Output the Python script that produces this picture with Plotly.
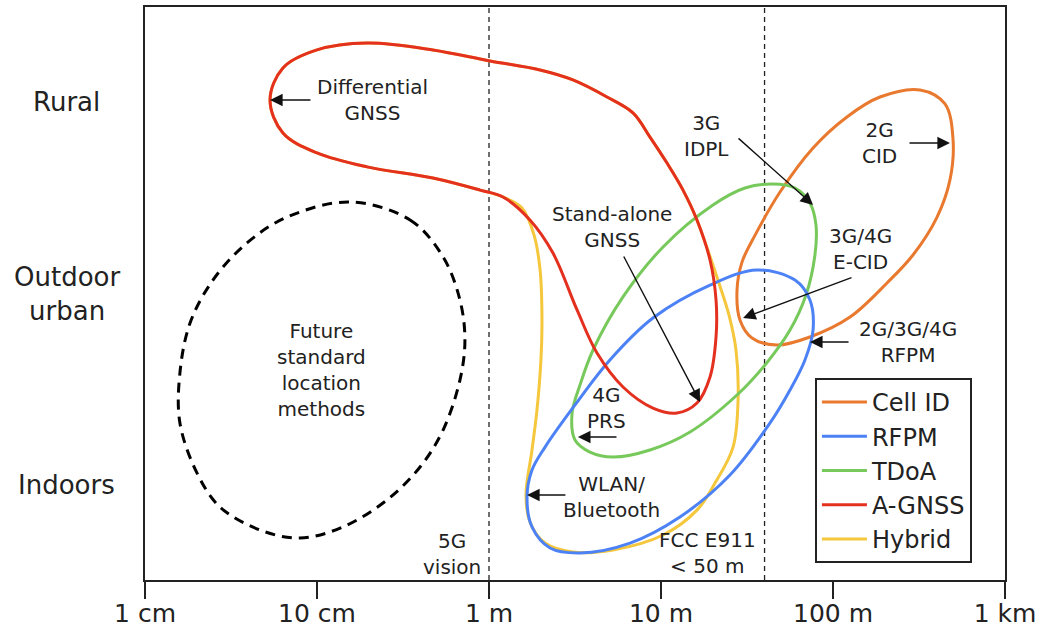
import numpy as np
import plotly.graph_objects as go

# Coordinates: x = log10(positioning accuracy in metres), y = environment level
# (1 = Indoors, 2 = Outdoor urban, 3 = Rural)
environment_labels = ["Indoors", "Outdoor<br>urban", "Rural"]
environment_levels = [1, 2, 3]

tick_metres = [0.01, 0.1, 1, 10, 100, 1000]
tick_labels = ["1 cm", "10 cm", "1 m", "10 m", "100 m", "1 km"]

threshold_metres = [1, 40]

# ---- Outlines of each method family (log10 metres, environment level) ----
cell_id_lx = [2.506, 2.651, 2.698, 2.680, 2.605, 2.465, 2.314, 2.099, 1.866, 1.674,
              1.529, 1.459, 1.442, 1.471, 1.547, 1.692, 1.884, 2.081, 2.273]
cell_id_y = [3.063, 2.990, 2.802, 2.593, 2.399, 2.201, 2.055, 1.877, 1.773, 1.731,
             1.768, 1.862, 2.018, 2.164, 2.305, 2.530, 2.760, 2.922, 3.026]

rfpm_lx = [1.558, 1.779, 1.866, 1.884, 1.837, 1.750, 1.634, 1.401, 1.110, 0.820,
           0.529, 0.355, 0.250, 0.221, 0.250, 0.326, 0.500, 0.703, 0.953, 1.285]
rfpm_y = [2.123, 2.070, 1.966, 1.809, 1.653, 1.496, 1.324, 1.052, 0.833, 0.697,
          0.645, 0.671, 0.781, 0.937, 1.078, 1.198, 1.418, 1.653, 1.872, 2.044]

tdoa_lx = [1.651, 1.779, 1.866, 1.901, 1.895, 1.843, 1.750, 1.605, 1.442, 1.169,
           0.936, 0.721, 0.587, 0.500, 0.483, 0.529, 0.605, 0.779, 1.012, 1.302, 1.488]
tdoa_y = [2.572, 2.551, 2.473, 2.358, 2.201, 1.992, 1.809, 1.627, 1.470, 1.277,
          1.183, 1.146, 1.172, 1.235, 1.376, 1.522, 1.705, 1.982, 2.243, 2.462, 2.551]

agnss_lx = [-1.273, -1.198, -1.000, -0.709, -0.326, 0.006, 0.297, 0.488, 0.686, 0.837,
            0.936, 1.035, 1.128, 1.209, 1.285, 1.320, 1.320, 1.285, 1.209, 1.093,
            0.953, 0.779, 0.628, 0.512, 0.372, 0.238, 0.081, -0.052, -0.326, -0.709,
            -1.000, -1.198]
agnss_y = [3.010, 3.178, 3.272, 3.308, 3.272, 3.214, 3.167, 3.115, 3.026, 2.943,
           2.817, 2.681, 2.540, 2.384, 2.175, 1.966, 1.773, 1.564, 1.428, 1.376,
           1.402, 1.512, 1.689, 1.914, 2.211, 2.384, 2.504, 2.540, 2.603, 2.661,
           2.734, 2.838]

hybrid_lx = [-1.273, -1.198, -1.000, -0.709, -0.326, 0.006, 0.297, 0.488, 0.686, 0.837,
             0.936, 1.035, 1.128, 1.209, 1.262, 1.331, 1.395, 1.436, 1.448, 1.419,
             1.314, 1.209, 1.012, 0.721, 0.488, 0.326, 0.238, 0.215, 0.250, 0.279,
             0.302, 0.308, 0.297, 0.262, 0.192, 0.081, -0.052, -0.326, -0.709, -1.000,
             -1.198]
hybrid_y = [3.010, 3.178, 3.272, 3.308, 3.272, 3.214, 3.167, 3.115, 3.026, 2.943,
            2.817, 2.681, 2.540, 2.384, 2.253, 2.070, 1.888, 1.705, 1.444, 1.198,
            1.010, 0.869, 0.739, 0.661, 0.650, 0.697, 0.807, 0.948, 1.183, 1.392,
            1.653, 1.862, 2.123, 2.305, 2.446, 2.504, 2.540, 2.603, 2.661, 2.734,
            2.838]

future_lx = [-0.808, -0.459, -0.267, -0.169, -0.140, -0.169, -0.267, -0.401, -0.593, -0.849,
             -1.099, -1.331, -1.564, -1.698, -1.797, -1.797, -1.738, -1.605, -1.407, -1.174]
future_y = [2.478, 2.384, 2.191, 1.966, 1.757, 1.548, 1.287, 1.094, 0.922, 0.781,
            0.723, 0.765, 0.885, 1.063, 1.324, 1.585, 1.846, 2.070, 2.264, 2.399]

method_names = ["Cell ID", "RFPM", "TDoA", "A-GNSS", "Hybrid"]
method_colors = ["#E8792E", "#4C82F5", "#78C95B", "#E3301F", "#F5C73C"]

# ---- Callout labels (text position and arrow tail/head) ----
label_texts = ["Differential<br>GNSS", "3G<br>IDPL", "2G<br>CID", "Stand-alone<br>GNSS",
               "3G/4G<br>E-CID", "2G/3G/4G<br>RFPM", "4G<br>PRS", "WLAN/<br>Bluetooth",
               "Future<br>standard<br>location<br>methods", "5G<br>vision",
               "FCC E911<br>&lt; 50 m"]
label_lx = [-0.680, 1.267, 2.273, 0.715, 2.157, 2.436, 0.686, 0.715, -0.971, -0.215, 1.273]
label_y = [3.010, 2.822, 2.786, 2.347, 2.232, 1.747, 1.402, 0.937, 1.601, 0.640, 0.645]

arrow_tail_lx = [-1.029, 1.442, 2.436, 0.779, 2.116, 2.099, 0.750, 0.453]
arrow_tail_y = [3.010, 2.817, 2.786, 2.201, 2.086, 1.747, 1.251, 0.948]
arrow_head_lx = [-1.273, 1.884, 2.680, 1.227, 1.477, 1.866, 0.517, 0.221]
arrow_head_y = [3.010, 2.462, 2.786, 1.433, 1.872, 1.747, 1.251, 0.948]

FONT = "DejaVu Sans"
TEXT_COLOR = "#222222"
Y_RANGE = [0.504, 3.496]


def closed(values):
    return list(values) + [values[0]]


fig = go.Figure()

# threshold lines
for m in threshold_metres:
    fig.add_trace(go.Scatter(x=[m, m], y=Y_RANGE, mode="lines",
                             line=dict(color="#222222", width=1.3, dash="5px,4px"),
                             showlegend=False, hoverinfo="skip"))

outlines = {
    "Cell ID": (cell_id_lx, cell_id_y),
    "RFPM": (rfpm_lx, rfpm_y),
    "TDoA": (tdoa_lx, tdoa_y),
    "A-GNSS": (agnss_lx, agnss_y),
    "Hybrid": (hybrid_lx, hybrid_y),
}
draw_order = ["Hybrid", "Cell ID", "TDoA", "RFPM", "A-GNSS"]
for name in draw_order:
    lx, yy = outlines[name]
    idx = method_names.index(name)
    fig.add_trace(go.Scatter(
        x=10 ** np.array(closed(lx)), y=closed(yy), mode="lines", name=name,
        line=dict(color=method_colors[idx], width=3, shape="spline", simplify=False),
        legendrank=idx + 1, hoverinfo="skip"))

fig.add_trace(go.Scatter(
    x=10 ** np.array(closed(future_lx)), y=closed(future_y), mode="lines",
    line=dict(color="black", width=3, shape="spline", dash="10px,7px", simplify=False),
    showlegend=False, hoverinfo="skip"))

annotations = []
for t, lx, yy in zip(label_texts, label_lx, label_y):
    annotations.append(dict(x=lx, y=yy, xref="x", yref="y", text=t, showarrow=False,
                            font=dict(family=FONT, size=20, color=TEXT_COLOR),
                            xanchor="center", yanchor="middle", align="center"))
for tx, ty, hx, hy in zip(arrow_tail_lx, arrow_tail_y, arrow_head_lx, arrow_head_y):
    annotations.append(dict(x=hx, y=hy, xref="x", yref="y", ax=tx, ay=ty,
                            axref="x", ayref="y", text="", showarrow=True,
                            arrowhead=2, arrowsize=1.8, arrowwidth=1.4,
                            arrowcolor="#111111"))
for t, lev in zip(environment_labels, environment_levels):
    annotations.append(dict(x=-0.0907, y=lev, xref="paper", yref="y", text=t,
                            showarrow=False, xanchor="center", yanchor="middle",
                            align="center",
                            font=dict(family=FONT, size=26, color=TEXT_COLOR)))

fig.update_layout(
    width=1043, height=631,
    margin=dict(l=145, r=38, t=7, b=51, autoexpand=False),
    paper_bgcolor="white", plot_bgcolor="white",
    font=dict(family=FONT, color=TEXT_COLOR),
    annotations=annotations,
    showlegend=True,
    legend=dict(x=0.779, y=0.3525, xanchor="left", yanchor="top",
                bgcolor="white", bordercolor="#222222", borderwidth=2,
                font=dict(family=FONT, size=24, color=TEXT_COLOR),
                itemwidth=45, tracegroupgap=0),
    xaxis=dict(type="log", range=[-2, 3], tickvals=tick_metres, ticktext=tick_labels,
               showgrid=False, zeroline=False, showline=True, linecolor="#222222",
               linewidth=2, mirror=True, ticks="outside", ticklen=17, tickwidth=2,
               tickcolor="#222222", automargin=False, ticklabelstandoff=-7,
               tickfont=dict(family=FONT, size=25, color=TEXT_COLOR)),
    yaxis=dict(range=Y_RANGE, showgrid=False, zeroline=False, showline=True,
               linecolor="#222222", linewidth=2, mirror=True, showticklabels=False,
               ticks="", automargin=False),
)

fig.write_html("out.html", config={"displayModeBar": False},
               post_script="document.body.style.margin='0px';")
